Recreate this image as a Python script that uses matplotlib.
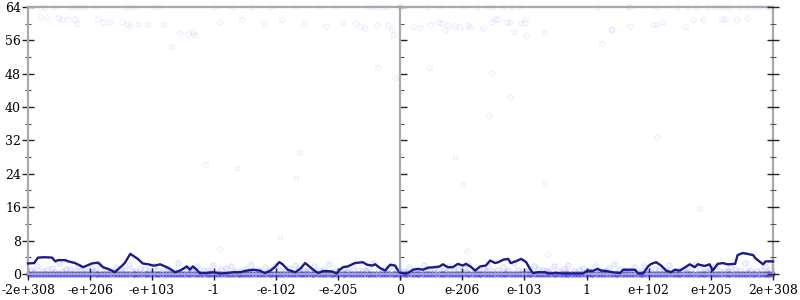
import matplotlib
matplotlib.use("Agg")
import matplotlib.pyplot as plt

plt.rcParams['font.family'] = ['DejaVu Serif']

# tick labels of the two halves (positions 0..6 along each half)
left_labels = ['-2e+308', '-e+206', '-e+103', '-1', '-e-102', '-e-205', '0']
right_labels = ['', 'e-206', 'e-103', '1', 'e+102', 'e+205', '2e+308']
y_ticks = [0, 8, 16, 24, 32, 40, 48, 56, 64]

# running mean (left half: -6..0, right half: 0..6)
line_left_x = [-6.0, -5.9, -5.84, -5.73, -5.61, -5.56, -5.52, -5.4, -5.35, -5.24, -5.16, -5.11,
               -4.97, -4.87, -4.79, -4.71, -4.65, -4.6, -4.48, -4.44, -4.35, -4.31, -4.23, -4.15,
               -4.06, -3.98, -3.95, -3.87, -3.79, -3.71, -3.63, -3.55, -3.5, -3.44, -3.39, -3.34,
               -3.28, -3.23, -3.11, -3.02, -2.9, -2.79, -2.69, -2.58, -2.47, -2.37, -2.26, -2.18,
               -2.1, -2.02, -1.95, -1.9, -1.81, -1.69, -1.61, -1.53, -1.48, -1.4, -1.32, -1.24,
               -1.1, -1.02, -0.97, -0.92, -0.84, -0.73, -0.6, -0.53, -0.45, -0.4, -0.32, -0.24,
               -0.16, -0.08, -0.03, 0.0]
line_left_y = [2.5, 2.6, 3.9, 4.0, 3.9, 3.0, 3.3, 3.3, 3.0, 2.6, 2.0, 1.6,
               2.5, 2.7, 1.6, 1.2, 0.8, 0.4, 2.0, 2.6, 4.8, 4.4, 3.6, 2.5,
               2.3, 2.0, 2.0, 2.3, 1.8, 1.2, 0.4, 0.8, 1.2, 1.8, 1.0, 1.8,
               1.0, 0.2, 0.2, 0.4, 0.1, 0.2, 0.4, 0.4, 0.8, 1.0, 0.8, 0.2,
               0.7, 1.6, 2.8, 2.4, 1.0, 0.4, 1.2, 2.6, 2.0, 1.0, 0.2, 0.7,
               0.6, 0.1, 1.0, 1.6, 1.8, 2.6, 2.8, 2.2, 2.0, 2.3, 1.4, 0.8,
               2.2, 2.0, 0.8, 0.3]
line_right_x = [0.0, 0.08, 0.13, 0.21, 0.29, 0.37, 0.45, 0.56, 0.64, 0.69, 0.77, 0.85,
                0.93, 1.01, 1.06, 1.13, 1.21, 1.29, 1.38, 1.45, 1.53, 1.58, 1.66, 1.74,
                1.78, 1.86, 1.95, 2.03, 2.09, 2.14, 2.22, 2.33, 2.38, 2.51, 2.62, 2.78,
                2.94, 3.02, 3.1, 3.18, 3.23, 3.31, 3.42, 3.54, 3.59, 3.7, 3.78, 3.83,
                3.91, 3.99, 4.04, 4.12, 4.2, 4.28, 4.36, 4.42, 4.5, 4.58, 4.66, 4.74,
                4.79, 4.9, 4.98, 5.03, 5.11, 5.19, 5.27, 5.39, 5.43, 5.51, 5.59, 5.68,
                5.72, 5.84, 5.88, 6.0]
line_right_y = [0.3, 0.05, 0.2, 1.0, 1.2, 1.0, 1.5, 1.6, 1.8, 2.3, 1.6, 1.6,
                2.4, 2.0, 2.4, 1.8, 0.8, 1.8, 2.0, 3.2, 2.6, 2.8, 3.4, 3.6,
                2.6, 3.0, 3.6, 2.8, 1.2, 0.2, 0.4, 0.4, 0.1, 0.2, 0.1, 0.1,
                0.1, 0.8, 0.7, 1.2, 0.8, 0.7, 0.4, 0.2, 1.0, 1.0, 1.0, 0.1,
                0.1, 1.8, 2.4, 2.8, 2.0, 0.8, 0.4, 1.0, 0.8, 1.5, 2.3, 1.6,
                2.3, 1.9, 2.3, 0.8, 2.4, 2.6, 2.3, 2.4, 4.5, 5.0, 4.8, 4.5,
                3.7, 2.3, 3.0, 3.0]

# samples sitting at zero
zero_x = [-5.98, -5.93, -5.88, -5.84, -5.79, -5.74, -5.69, -5.65, -5.6, -5.55, -5.5, -5.45,
          -5.41, -5.36, -5.3, -5.26, -5.21, -5.16, -5.11, -5.07, -5.02, -4.96, -4.91, -4.87,
          -4.82, -4.77, -4.72, -4.67, -4.61, -4.57, -4.52, -4.47, -4.42, -4.37, -4.31, -4.27,
          -4.22, -4.17, -4.12, -4.08, -4.03, -3.97, -3.92, -3.88, -3.83, -3.78, -3.72, -3.68,
          -3.63, -3.58, -3.53, -3.48, -3.42, -3.38, -3.33, -3.28, -3.23, -3.18, -3.12, -3.08,
          -3.03, -2.98, -2.93, -2.88, -2.82, -2.78, -2.73, -2.68, -2.62, -2.58, -2.53, -2.48,
          -2.43, -2.38, -2.32, -2.28, -2.23, -2.18, -2.12, -2.08, -2.03, -1.98, -1.93, -1.88,
          -1.82, -1.78, -1.73, -1.68, -1.62, -1.58, -1.53, -1.48, -1.42, -1.38, -1.33, -1.28,
          -1.23, -1.18, -1.12, -1.08, -1.03, -0.98, -0.92, -0.88, -0.83, -0.78, -0.72, -0.68,
          -0.63, -0.58, -0.52, -0.48, -0.43, -0.38, -0.32, -0.28, -0.23, -0.18, -0.12, -0.08,
          -0.03, 0.03, 0.08, 0.12, 0.17, 0.22, 0.27, 0.31, 0.37, 0.42, 0.47, 0.51, 0.57,
          0.62, 0.67, 0.71, 0.77, 0.82, 0.87, 0.91, 0.97, 1.02, 1.07, 1.11, 1.17, 1.22,
          1.27, 1.31, 1.37, 1.42, 1.47, 1.51, 1.57, 1.62, 1.67, 1.71, 1.77, 1.82, 1.87,
          1.91, 1.97, 2.02, 2.07, 2.11, 2.17, 2.22, 2.27, 2.31, 2.37, 2.42, 2.47, 2.51,
          2.57, 2.62, 2.67, 2.71, 2.77, 2.82, 2.87, 2.91, 2.97, 3.02, 3.07, 3.11, 3.17,
          3.22, 3.27, 3.31, 3.37, 3.42, 3.47, 3.51, 3.57, 3.62, 3.67, 3.71, 3.77, 3.82,
          3.87, 3.91, 3.97, 4.02, 4.07, 4.11, 4.17, 4.22, 4.27, 4.31, 4.37, 4.42, 4.47,
          4.51, 4.57, 4.62, 4.67, 4.71, 4.77, 4.82, 4.87, 4.91, 4.97, 5.02, 5.07, 5.11,
          5.17, 5.22, 5.27, 5.31, 5.37, 5.42, 5.47, 5.51, 5.57, 5.62, 5.67, 5.71, 5.77,
          5.82, 5.87, 5.91, 5.94, 5.98]

# low samples (haze just above zero)
band_x = [-5.95, -5.85, -5.77, -5.62, -5.5, -5.45, -5.33, -5.2, -5.14, -4.98, -4.9, -4.85,
          -4.66, -4.58, -4.5, -4.37, -4.28, -4.19, -4.05, -3.97, -3.9, -3.74, -3.66, -3.58,
          -3.41, -3.35, -3.27, -3.1, -3.02, -2.96, -2.8, -2.72, -2.64, -2.49, -2.41, -2.35,
          -2.17, -2.09, -2.01, -1.86, -1.79, -1.7, -1.55, -1.47, -1.39, -1.22, -1.15, -1.07,
          -0.9, -0.83, -0.76, -0.6, -0.51, -0.44, -0.27, -0.19, -0.1,
          0.06, 0.15, 0.24, 0.38, 0.46, 0.55, 0.7, 0.79, 0.87, 1.03, 1.1, 1.19, 1.35,
          1.42, 1.5, 1.66, 1.74, 1.83, 1.98, 2.07, 2.16, 2.3, 2.39, 2.47, 2.63, 2.71,
          2.8, 2.95, 3.04, 3.13, 3.27, 3.36, 3.45, 3.6, 3.68, 3.77, 3.92, 4.01, 4.1,
          4.25, 4.33, 4.42, 4.57, 4.66, 4.74, 4.9, 4.98, 5.07, 5.22, 5.31, 5.39, 5.55,
          5.63, 5.72, 5.87, 5.95,
          -5.9, -5.7, -5.56, -5.38, -5.25, -5.06, -4.94, -4.76, -4.62, -4.44, -4.32, -4.12,
          -4.0, -3.82, -3.7, -3.5, -3.31, -3.18, -3.06, -2.88, -2.68, -2.56, -2.44, -2.27,
          -2.13, -1.95, -1.82, -1.63, -1.51, -1.31, -1.19, -0.98, -0.86, -0.68, -0.55, -0.36,
          -0.23, -0.05, 0.1, 0.3, 0.42, 0.62, 0.74, 0.94, 1.06, 1.27, 1.38, 1.58, 1.7,
          1.9, 2.02, 2.22, 2.35, 2.55, 2.67, 2.88, 2.99, 3.2, 3.31, 3.52, 3.64, 3.85, 3.96,
          4.17, 4.29, 4.49, 4.62, 4.82, 4.94, 5.14, 5.27, 5.47, 5.59, 5.8, 5.91]
band_y = [1.0, 2.0, 0.6, 1.4, 2.6, 0.8, 1.2, 2.0, 0.6, 1.5, 1.0, 2.4,
          0.7, 1.6, 1.1, 2.2, 0.8, 1.3, 0.6, 2.0, 1.0, 1.5, 0.7, 2.6,
          1.2, 0.6, 1.8, 1.0, 2.2, 0.5, 1.4, 2.0, 0.8, 1.2, 2.4, 0.6,
          1.6, 1.0, 2.0, 0.7, 1.3, 2.2, 1.0, 0.6, 1.8, 1.2, 2.4, 0.8,
          1.5, 0.6, 2.0, 1.0, 1.6, 2.5, 0.8, 1.4, 2.0,
          0.8, 1.6, 1.0, 2.2, 0.6, 1.4, 1.0, 2.0, 0.7, 1.5, 2.4, 0.8, 1.2,
          2.0, 0.6, 1.6, 1.0, 2.6, 0.8, 1.4, 2.0, 1.0, 0.6, 1.8, 1.2, 2.2,
          0.7, 1.5, 1.0, 2.0, 0.6, 1.3, 2.4, 1.0, 0.8, 1.6, 2.0, 0.6, 1.2,
          1.0, 2.2, 0.7, 1.5, 1.0, 2.4, 0.8, 1.4, 2.0, 0.6, 1.6, 1.2, 2.6,
          1.0, 0.7, 1.8, 1.2,
          0.5, 0.9, 0.4, 1.1, 0.6, 0.8, 0.4, 1.0, 0.5, 0.9, 0.6, 1.2,
          0.4, 0.8, 0.5, 1.0, 0.6, 0.9, 0.4, 1.1, 0.5, 0.8, 0.6, 1.0,
          0.4, 0.9, 0.5, 1.2, 0.6, 0.8, 0.4, 1.0, 0.5, 0.9, 0.6, 1.1,
          0.4, 0.8, 0.5, 1.0, 0.6, 0.9, 0.4, 1.1, 0.5, 0.8, 0.6, 1.0, 0.4,
          0.9, 0.5, 1.2, 0.6, 0.8, 0.4, 1.0, 0.5, 0.9, 0.6, 1.1, 0.4, 0.8, 0.5,
          1.0, 0.6, 0.9, 0.4, 1.1, 0.5, 0.8, 0.6, 1.0, 0.4, 0.9, 0.5]

# rare large samples
high_x = [-5.81, -5.73, -5.56, -5.32, -5.24, -5.16, -5.08, -4.92, -4.44, -4.35, -4.27, -3.95,
          -3.87, -3.0, -2.7, -2.4, -2.1, -1.7, -1.3, -1.05, -0.53, -0.45, -0.37, -0.29,
          -0.21, 0.0, 0.43, 0.64, 1.01, 1.24, 1.4, 1.5, 1.66, 1.8, 1.93, 3.17, 3.67,
          3.7, 4.13, 4.45, 4.63, 4.77, 4.94, 5.06, 5.14, 5.23, 5.31, 5.47, 5.59, 5.71,
          5.79, 5.9, 5.95,
          -5.81, -5.69, -5.52, -5.45, -5.35, -5.24, -5.21, -4.87, -4.79, -4.68, -4.48, -4.4,
          -4.35, -4.23, -4.06, -3.82, -3.55, -3.42, -3.34, -3.31, -3.68, -2.9, -2.55, -2.2,
          -1.9, -1.55, -1.2, -0.92, -0.73, -0.65, -0.56, -0.37, -0.19, -0.13, -0.11,
          0.21, 0.32, 0.48, 0.61, 0.68, 0.72, 0.77, 0.88, 0.96, 1.09, 1.13, 1.33, 1.48,
          1.53, 1.58, 1.72, 1.77, 1.83, 1.93, 2.01, 2.01, 2.03, 2.32, 3.25, 3.39, 3.7,
          3.41, 4.07, 4.13, 4.23, 4.58, 4.71, 4.87, 5.18, 5.23, 5.42, 5.58,
          -3.15, -2.63, -1.68, -1.61, -0.35, -0.08, 0.47, 1.48, 1.77, 1.43, 0.88, 1.01,
          2.33, 4.13, 4.82, -1.94, -2.9, 1.08, 2.38]
high_y = [64, 64, 64, 64, 64, 64, 64, 64, 64, 64, 64, 64,
          64, 64, 64, 64, 64, 64, 64, 64, 64, 64, 64, 64,
          64, 64, 64, 64, 64, 64, 64, 64, 64, 64, 64, 64, 64,
          64, 64, 64, 64, 64, 64, 64, 64, 64, 64, 64, 64, 64,
          64, 64, 64,
          61.5, 61.3, 61.3, 61.0, 61.0, 61.0, 60.0, 61.0, 60.5, 60.5, 60.5, 60.0,
          59.5, 60.0, 60.0, 60.0, 57.8, 57.5, 58.0, 57.3, 54.5, 60.5, 61.0, 60.0,
          60.8, 60.2, 59.5, 60.5, 60.2, 59.5, 59.0, 59.7, 59.7, 58.7, 57.2,
          59.5, 58.9, 59.7, 60.5, 60.2, 58.4, 59.7, 59.5, 59.3, 59.6, 59.3, 58.9, 60.5,
          61.2, 61.0, 60.5, 60.5, 57.9, 60.2, 60.2, 61.0, 57.2, 57.7, 55.3, 58.6, 59.5,
          58.4, 60.0, 60.0, 60.3, 59.5, 60.8, 60.8, 61.0, 61.0, 61.0, 61.3,
          26.0, 25.4, 23.0, 29.2, 49.6, 46.9, 49.4, 48.2, 42.4, 37.9, 28.0, 21.3,
          21.8, 32.8, 15.7, 8.8, 5.9, 5.6, 4.7]

fig = plt.figure(figsize=(8, 3), dpi=100)
ax_l = fig.add_axes([0.035, 0.087, 0.465, 0.89])
ax_r = fig.add_axes([0.5, 0.087, 0.4663, 0.89])

for ax, lo, hi in [(ax_l, -6, 0), (ax_r, 0, 6)]:
    zx = [x for x in zero_x if lo <= x <= hi]
    bx = [x for x in band_x if lo <= x <= hi]
    by = [y for x, y in zip(band_x, band_y) if lo <= x <= hi]
    hx = [x for x in high_x if lo <= x <= hi]
    hy = [y for x, y in zip(high_x, high_y) if lo <= x <= hi]
    ax.scatter(bx, by, s=16, facecolor=(0, 0, 1, 0.06), edgecolor=(0, 0, 1, 0.11),
               linewidth=0.6, clip_on=False, zorder=2)
    ax.scatter(zx, [0] * len(zx), s=16, facecolor=(0.1, 0.1, 1, 0.42), edgecolor=(0.1, 0.1, 1, 0.45),
               linewidth=0.6, clip_on=False, zorder=2)
    ax.scatter(hx, hy, s=16, facecolor=(0, 0, 1, 0.015), edgecolor=(0, 0, 1, 0.07),
               linewidth=0.6, clip_on=False, zorder=2)
    ax.set_xlim(lo, hi)
    ax.set_ylim(0, 64)
    ax.set_xticks(range(lo, hi + 1))
    ax.set_yticks(y_ticks)
    ax.set_yticks([4, 12, 20, 28, 36, 44, 52, 60], minor=True)
    for s in ax.spines.values():
        s.set_color('#aaaaaa')
        s.set_linewidth(1.6)
    ax.tick_params(axis='x', direction='inout', length=8, width=1, color='#222222',
                   labelsize=9, pad=3)
    ax.tick_params(axis='y', which='major', width=1, color='#222222', labelsize=9)
    ax.tick_params(axis='y', which='minor', width=0.8, color='#555555')

ax_l.plot(line_left_x, line_left_y, color='#1c1c88', lw=1.7, zorder=3, clip_on=False)
ax_r.plot(line_right_x, line_right_y, color='#1c1c88', lw=1.7, zorder=3, clip_on=False)

ax_l.set_xticklabels(left_labels)
ax_r.set_xticklabels(right_labels)

ax_l.tick_params(axis='y', which='major', direction='inout', length=8, left=True, right=False, pad=1)
ax_l.tick_params(axis='y', which='minor', direction='inout', length=5, left=True, right=False)
ax_r.tick_params(axis='y', which='major', direction='in', length=5, left=True, right=False,
                 labelleft=False)
ax_r.tick_params(axis='y', which='minor', direction='in', length=3, left=True, right=False)
ax_l.spines['right'].set_visible(False)

# ticks on the far right edge
ax_rr = ax_r.twinx()
ax_rr.set_ylim(0, 64)
ax_rr.set_yticks(y_ticks)
ax_rr.set_yticks([4, 12, 20, 28, 36, 44, 52, 60], minor=True)
ax_rr.tick_params(axis='y', which='major', direction='inout', length=8, width=1,
                  color='#222222', labelright=False)
ax_rr.tick_params(axis='y', which='minor', direction='inout', length=5, width=0.8,
                  color='#555555')
for s in ax_rr.spines.values():
    s.set_visible(False)

fig.savefig('out.png', dpi=100)
